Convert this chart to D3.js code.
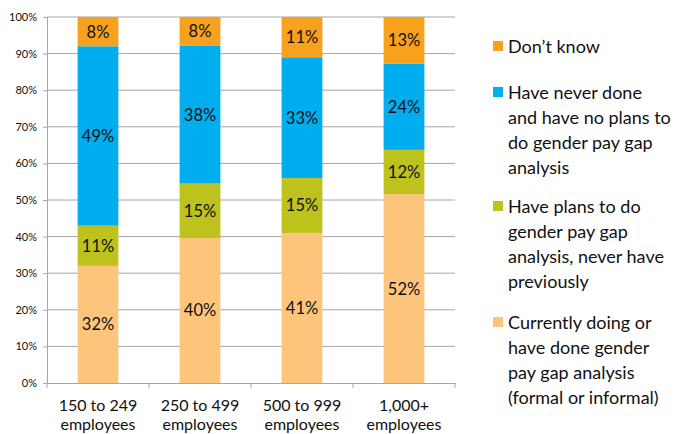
<!DOCTYPE html>
<html>
<head>
<meta charset="utf-8">
<script src="https://cdn.jsdelivr.net/npm/d3@7"></script>
<style>
  body { margin: 0; background: #fff; }
  svg { display: block; font-family: "Lato", "Open Sans", sans-serif; }
</style>
</head>
<body>
<div id="chart"></div>
<script>
const width = 679, height = 434;

const categories = [["150 to 249", "employees"], ["250 to 499", "employees"], ["500 to 999", "employees"], ["1,000+", "employees"]];
const currentlyDoing = [32, 39.6, 41, 51.6];
const plansToDo = [11, 14.9, 15, 12.1];
const neverDone = [49, 37.6, 33, 23.6];
const dontKnow = [8, 7.9, 11, 12.8];
const yTicks = [0, 10, 20, 30, 40, 50, 60, 70, 80, 90, 100];

const series = [
  { name: "Currently doing", values: currentlyDoing, color: "#fdc57c",
    legend: ["Currently doing or", "have done gender", "pay gap analysis", "(formal or informal)"] },
  { name: "Plans", values: plansToDo, color: "#bec21c",
    legend: ["Have plans to do", "gender pay gap", "analysis, never have", "previously"] },
  { name: "Never", values: neverDone, color: "#00adee",
    legend: ["Have never done", "and have no plans to", "do gender pay gap", "analysis"] },
  { name: "Don't know", values: dontKnow, color: "#f7a11c",
    legend: ["Don\u2019t know"] }
];

const margin = { left: 47, right: 224, top: 17, bottom: 51 };

const x = d3.scaleBand()
  .domain(d3.range(categories.length))
  .range([margin.left, width - margin.right])
  .paddingInner(0.6)
  .paddingOuter(0.3);

const xOuter = d3.scaleBand()
  .domain(d3.range(categories.length))
  .range([margin.left, width - margin.right]);

const y = d3.scaleLinear()
  .domain([0, 100])
  .range([height - margin.bottom, margin.top]);

const svg = d3.select("#chart").append("svg")
  .attr("width", width)
  .attr("height", height);

// gridlines
svg.append("g")
  .selectAll("line")
  .data(yTicks.slice(1))
  .enter().append("line")
  .attr("x1", margin.left)
  .attr("x2", width - margin.right)
  .attr("y1", d => y(d))
  .attr("y2", d => y(d))
  .attr("stroke", "#a6a6a6")
  .attr("stroke-width", 1);

// y axis
const yAxis = d3.axisLeft(y)
  .tickValues(yTicks)
  .tickFormat(d => d + "%")
  .tickSize(4)
  .tickPadding(6);

svg.append("g")
  .attr("transform", `translate(${margin.left},0)`)
  .call(yAxis)
  .call(g => g.selectAll("line, path").attr("stroke", "#a6a6a6"))
  .call(g => g.selectAll("text").attr("font-size", 11).attr("fill", "#111").attr("font-family", "Lato, sans-serif"));

// stacked bars
const stacked = d3.stack()
  .keys(d3.range(series.length))
  .value((i, k) => series[k].values[i])(d3.range(categories.length));

const layers = svg.append("g")
  .selectAll("g")
  .data(stacked)
  .enter().append("g")
  .attr("fill", (d, k) => series[k].color);

layers.selectAll("rect")
  .data(d => d)
  .enter().append("rect")
  .attr("x", d => x(d.data))
  .attr("width", x.bandwidth())
  .attr("y", d => y(Math.min(d[1], 100)))
  .attr("height", d => y(d[0]) - y(Math.min(d[1], 100)));

layers.selectAll("text")
  .data(d => d)
  .enter().append("text")
  .attr("x", d => x(d.data) + x.bandwidth() / 2)
  .attr("y", d => (y(d[0]) + y(Math.min(d[1], 100))) / 2)
  .attr("dy", "0.36em")
  .attr("text-anchor", "middle")
  .attr("font-size", 16.5)
  .attr("fill", "#111")
  .text(d => Math.round(d[1] - d[0]) + "%");

// x axis
const xAxis = d3.axisBottom(xOuter).tickSize(0).tickFormat("");
const gx = svg.append("g")
  .attr("transform", `translate(0,${y(0)})`)
  .call(xAxis)
  .call(g => g.select("path").attr("stroke", "#a6a6a6"));

gx.selectAll(".sep")
  .data(d3.range(categories.length + 1))
  .enter().append("line")
  .attr("x1", i => margin.left + i * xOuter.step())
  .attr("x2", i => margin.left + i * xOuter.step())
  .attr("y1", 0)
  .attr("y2", 5)
  .attr("stroke", "#a6a6a6");

svg.append("g")
  .selectAll("text")
  .data(categories)
  .enter().append("text")
  .attr("x", (d, i) => xOuter(i) + xOuter.bandwidth() / 2)
  .attr("y", 411)
  .attr("text-anchor", "middle")
  .attr("font-size", 16)
  .attr("fill", "#111")
  .selectAll("tspan")
  .data(d => d)
  .enter().append("tspan")
  .attr("x", function () { return this.parentNode.getAttribute("x"); })
  .attr("dy", (d, i) => i === 0 ? 0 : 19)
  .text(d => d);

// legend
const legendTops = [47, 93, 207, 323];
const legendOrder = series.slice().reverse();
const legend = svg.append("g")
  .selectAll("g")
  .data(legendOrder)
  .enter().append("g")
  .attr("transform", (d, i) => `translate(493,${legendTops[i]})`);

legend.append("rect")
  .attr("x", 0)
  .attr("y", -6)
  .attr("width", 10)
  .attr("height", 10)
  .attr("fill", d => d.color);

legend.append("text")
  .attr("font-size", 18)
  .attr("fill", "#111")
  .selectAll("tspan")
  .data(d => d.legend)
  .enter().append("tspan")
  .attr("x", 15)
  .attr("y", (d, i) => i * 24.8)
  .attr("dy", "0.36em")
  .text(d => d);
</script>
</body>
</html>
